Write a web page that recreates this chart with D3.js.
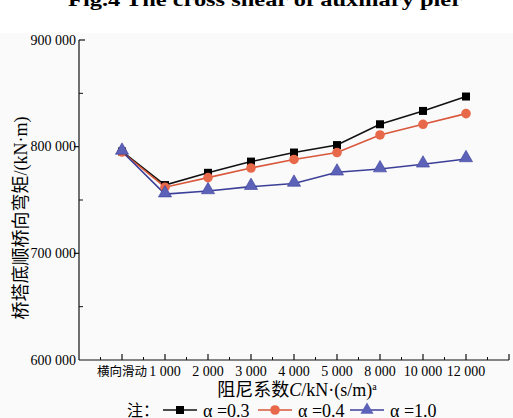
<!DOCTYPE html>
<html>
<head>
<meta charset="utf-8">
<script src="https://cdn.jsdelivr.net/npm/d3@7/dist/d3.min.js"></script>
<style>
  html, body { margin: 0; padding: 0; background: #fff; }
  svg { display: block; }
</style>
</head>
<body>
<svg id="chart" width="513" height="418"></svg>
<script>
// Damping coefficient categories along the x axis
const categories = ["横向滑动", "1 000", "2 000", "3 000", "4 000", "5 000", "8 000", "10 000", "12 000"];
// Bending moment at tower bottom (kN·m) for each alpha
const seriesA03 = [795500, 764000, 775500, 786000, 794500, 801500, 821000, 833500, 847000];
const seriesA04 = [795000, 762000, 771000, 780000, 788000, 794500, 811000, 821000, 831000];
const seriesA10 = [795500, 755500, 758500, 762500, 765500, 776000, 779000, 783500, 788500];
const yTicks = [600000, 700000, 800000, 900000];
const yMinorTicks = [650000, 750000, 850000];

const svg = d3.select("#chart");
const serif = "'Times New Roman', 'Liberation Serif', Times, serif";
const cjk = "'Noto Sans CJK SC', sans-serif";

// page tint behind plot
svg.append("rect").attr("x", 0).attr("y", 33).attr("width", 513).attr("height", 385).attr("fill", "#fafafa");

// figure caption (partially cut at top)
svg.append("text")
  .attr("x", 68).attr("y", 6)
  .attr("font-family", serif).attr("font-weight", "bold").attr("font-size", 19)
  .attr("textLength", 394).attr("lengthAdjust", "spacingAndGlyphs")
  .text("Fig.4   The cross shear of auxiliary pier");

const x = d3.scaleLinear().domain([0, 10]).range([79, 509]);
const y = d3.scaleLinear().domain([600000, 900000]).range([360, 40]);

const g = svg.append("g");

// axis lines
g.append("line").attr("x1", 79).attr("x2", 79).attr("y1", y(900000)).attr("y2", y(600000)).attr("stroke", "#111").attr("stroke-width", 1.2);
g.append("line").attr("x1", 79).attr("x2", 509).attr("y1", y(600000)).attr("y2", y(600000)).attr("stroke", "#111").attr("stroke-width", 1.2);

// y ticks
yTicks.forEach(v => {
  const yy = y(v);
  if (v === 900000) {
    g.append("line").attr("x1", 79).attr("x2", 85).attr("y1", yy).attr("y2", yy).attr("stroke", "#111").attr("stroke-width", 1.2);
  } else if (v !== 600000) {
    g.append("line").attr("x1", 74).attr("x2", 79).attr("y1", yy).attr("y2", yy).attr("stroke", "#111").attr("stroke-width", 1.2);
  }
  g.append("text").attr("x", 76).attr("y", yy + 4.5)
    .attr("text-anchor", "end").attr("font-family", serif).attr("font-size", 14)
    .text(d3.format(",")(v).replace(/,/g, " "));
});
yMinorTicks.forEach(v => {
  g.append("line").attr("x1", 79).attr("x2", 83).attr("y1", y(v)).attr("y2", y(v)).attr("stroke", "#111");
});

// x ticks: major at categories and end, minor at half steps
d3.range(1, 11).forEach(i => {
  g.append("line").attr("x1", x(i)).attr("x2", x(i)).attr("y1", 360).attr("y2", 354).attr("stroke", "#111").attr("stroke-width", 1.2);
});
d3.range(0.5, 10, 1).forEach(i => {
  g.append("line").attr("x1", x(i)).attr("x2", x(i)).attr("y1", 360).attr("y2", 357).attr("stroke", "#111");
});
categories.forEach((c, i) => {
  g.append("text").attr("x", x(i + 1)).attr("y", 376)
    .attr("text-anchor", "middle")
    .attr("font-family", i === 0 ? cjk : serif)
    .attr("font-size", i === 0 ? 12.5 : 14)
    .text(c);
});

// axis titles
const xt = svg.append("text").attr("x", 297).attr("y", 396).attr("text-anchor", "middle").attr("font-size", 18);
xt.append("tspan").attr("font-family", cjk).text("阻尼系数");
xt.append("tspan").attr("font-family", serif).attr("font-style", "italic").text("C");
xt.append("tspan").attr("font-family", serif).text("/kN·(s/m)");
xt.append("tspan").attr("font-family", serif).attr("font-size", 10).attr("dy", -6).text("a");

const yt = svg.append("text").attr("transform", "translate(27,218) rotate(-90)").attr("text-anchor", "middle").attr("font-size", 18);
yt.append("tspan").attr("font-family", cjk).text("桥塔底顺桥向弯矩");
yt.append("tspan").attr("font-family", serif).text("/(kN·m)");

// series
const series = [
  { name: "α =0.3", values: seriesA03, line: "#111", fill: "#000", shape: "square" },
  { name: "α =0.4", values: seriesA04, line: "#d9573a", fill: "#e8684a", shape: "circle" },
  { name: "α =1.0", values: seriesA10, line: "#3c3f98", fill: "#5b62b8", shape: "triangle" }
];
const line = d3.line().x((d, i) => x(i + 1)).y(d => y(d));
const symbolFor = s => s === "square" ? d3.symbol().type(d3.symbolSquare).size(64)
  : s === "circle" ? d3.symbol().type(d3.symbolCircle).size(72)
  : d3.symbol().type(d3.symbolTriangle).size(75);

series.forEach(s => {
  svg.append("path").attr("d", line(s.values)).attr("fill", "none").attr("stroke", s.line).attr("stroke-width", 1.6);
});
series.forEach(s => {
  svg.selectAll(null).data(s.values).enter().append("path")
    .attr("transform", (d, i) => `translate(${x(i + 1)},${y(d) + (s.shape === "triangle" ? -1 : 0)})`)
    .attr("d", symbolFor(s.shape)())
    .attr("fill", s.fill)
    .attr("stroke", s.shape === "triangle" ? "#3c3f98" : "none")
    .attr("stroke-width", 0.6);
});

// legend
const ly = 410;
svg.append("text").attr("x", 127).attr("y", ly + 6).attr("font-family", cjk).attr("font-size", 16).text("注：");
const legX = [163, 258, 350];
series.forEach((s, i) => {
  const lx = legX[i];
  svg.append("line").attr("x1", lx).attr("x2", lx + 34).attr("y1", ly).attr("y2", ly).attr("stroke", s.line).attr("stroke-width", 1.6);
  svg.append("path").attr("transform", `translate(${lx + 17},${ly})`).attr("d", symbolFor(s.shape)()).attr("fill", s.fill);
  svg.append("text").attr("x", lx + 40).attr("y", ly + 7).attr("font-family", serif).attr("font-size", 18).text(s.name);
});
</script>
</body>
</html>
